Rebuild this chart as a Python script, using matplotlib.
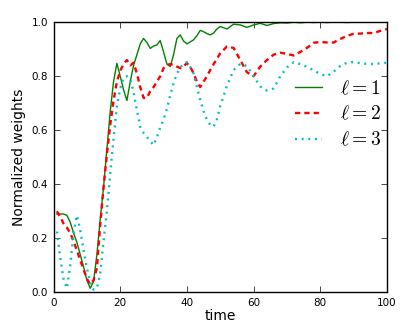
import matplotlib
matplotlib.use("Agg")
import matplotlib.pyplot as plt

time = list(range(1, 51)) + list(range(52, 101, 2))

w_l1 = [0.29, 0.29, 0.29, 0.285, 0.26, 0.22, 0.185, 0.14, 0.095, 0.045,
        0.015, 0.04, 0.14, 0.27, 0.39, 0.53, 0.67, 0.78, 0.848, 0.80,
        0.75, 0.71, 0.78, 0.84, 0.88, 0.92, 0.94, 0.925, 0.903, 0.912,
        0.916, 0.932, 0.89, 0.845, 0.836, 0.88, 0.94, 0.953, 0.93, 0.92,
        0.927, 0.935, 0.95, 0.97, 0.965, 0.958, 0.953, 0.96, 0.975, 0.984,
        0.975, 0.993, 0.99, 0.981, 0.99, 0.996, 0.988, 0.995, 0.998, 0.997,
        1.0, 0.998, 1.0, 0.999, 1.0, 0.999, 1.0, 1.0, 0.999, 1.0,
        1.0, 1.0, 1.0, 1.0, 1.0]

w_l2 = [0.30, 0.28, 0.255, 0.24, 0.22, 0.19, 0.155, 0.12, 0.085, 0.05,
        0.03, 0.045, 0.09, 0.25, 0.39, 0.51, 0.62, 0.71, 0.78, 0.82,
        0.845, 0.86, 0.84, 0.85, 0.81, 0.76, 0.72, 0.72, 0.745, 0.76,
        0.78, 0.80, 0.83, 0.842, 0.845, 0.842, 0.836, 0.83, 0.838, 0.848,
        0.835, 0.81, 0.78, 0.76, 0.78, 0.80, 0.823, 0.845, 0.865, 0.885,
        0.91, 0.905, 0.86, 0.815, 0.80, 0.836, 0.86, 0.88, 0.887, 0.883,
        0.877, 0.89, 0.905, 0.924, 0.927, 0.925, 0.925, 0.938, 0.95, 0.957,
        0.958, 0.96, 0.96, 0.968, 0.975]

w_l3 = [0.225, 0.13, 0.05, 0.015, 0.10, 0.22, 0.285, 0.23, 0.157, 0.09,
        0.035, 0.01, 0.015, 0.07, 0.19, 0.30, 0.44, 0.57, 0.69, 0.755,
        0.795, 0.80, 0.79, 0.74, 0.675, 0.613, 0.59, 0.575, 0.56, 0.545,
        0.575, 0.61, 0.64, 0.68, 0.73, 0.775, 0.81, 0.83, 0.848, 0.852,
        0.835, 0.81, 0.76, 0.712, 0.67, 0.638, 0.62, 0.613, 0.64, 0.69,
        0.765, 0.823, 0.846, 0.838, 0.80, 0.762, 0.747, 0.755, 0.80, 0.833,
        0.852, 0.845, 0.835, 0.822, 0.808, 0.80, 0.817, 0.838, 0.85, 0.853,
        0.848, 0.846, 0.845, 0.848, 0.85]

labels = [r'$\ell=1$', r'$\ell=2$', r'$\ell=3$']

plt.rcParams['mathtext.fontset'] = 'cm'
plt.rcParams['font.family'] = ['DejaVu Sans']
plt.rcParams['lines.scale_dashes'] = False

fig = plt.figure(figsize=(4.15, 3.27), dpi=100, facecolor='white')
ax = fig.add_axes([0.129, 0.106, 0.8035, 0.826])

ax.plot(time, w_l1, color=(0, 0.5, 0), lw=1.0, ls='-', label=labels[0])
ax.plot(time, w_l2, color=(1, 0, 0), lw=1.7, ls=(0, (3.8, 2.9)),
        dash_capstyle='butt', label=labels[1])
ax.plot(time, w_l3, color=(0, 0.75, 0.75), lw=1.7, ls=(0, (1.4, 3.4)),
        dash_capstyle='butt', label=labels[2])

ax.set_xlim(0, 100)
ax.set_ylim(0, 1.0)
ax.set_xticks([0, 20, 40, 60, 80, 100])
ax.set_yticks([0.0, 0.2, 0.4, 0.6, 0.8, 1.0])
ax.tick_params(direction='in', top=True, right=True, labelsize=7.5,
               length=4, width=0.5, pad=4)
for s in ax.spines.values():
    s.set_linewidth(1.0)
    s.set_color('black')

ax.set_xlabel('time', fontsize=10, labelpad=1)
ax.set_ylabel('Normalized weights', fontsize=10, labelpad=4)

ax.legend(loc='center right', bbox_to_anchor=(1.035, 0.66), frameon=False,
          fontsize=14, handlelength=1.35, handletextpad=0.95, labelspacing=0.35)

fig.savefig('out.png', dpi=100, facecolor='white')
